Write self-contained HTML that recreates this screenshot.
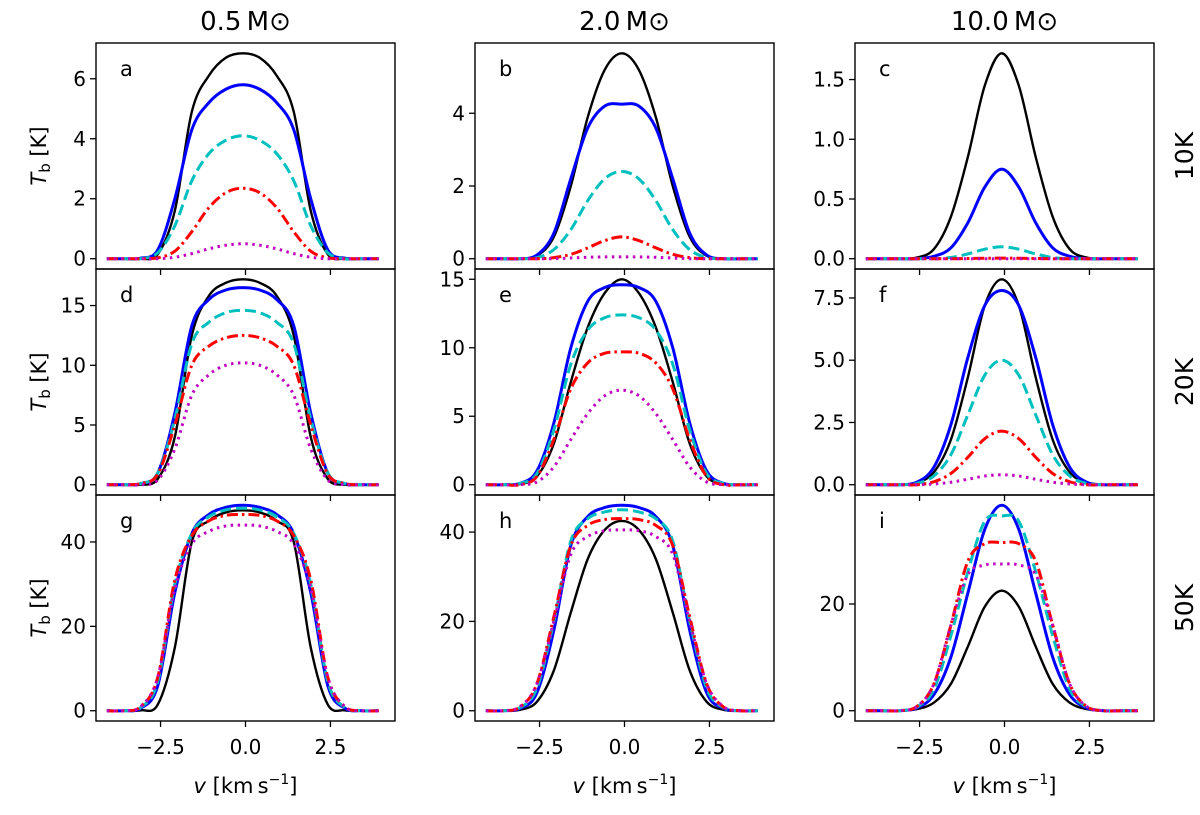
<!DOCTYPE html>
<html><head><meta charset="utf-8">
<style>
html,body{margin:0;padding:0;background:#fff;}
svg text{font-family:"DejaVu Sans","Liberation Sans",sans-serif;fill:#000;}
</style></head>
<body>
<svg id="fig" width="1200" height="810" viewBox="0 0 1200 810" xmlns="http://www.w3.org/2000/svg"></svg>
<script>
// ---- data ----
const colTitles = ["0.5", "2.0", "10.0"];
const rowLabels = ["10K", "20K", "50K"];
const panelLetters = ["a","b","c","d","e","f","g","h","i"];
const sampleV = [0, 0.5, 1.0, 1.5, 2.0, 2.5, 3.0, 3.5, 4.0];
const xTickValues = [-2.5, 0.0, 2.5];
const xTickLabels = ["\u22122.5", "0.0", "2.5"];
const yTicksA = [0, 2, 4, 6];
const yTicksB = [0, 2, 4];
const yTicksC = [0.0, 0.5, 1.0, 1.5];
const yTicksD = [0, 5, 10, 15];
const yTicksE = [0, 5, 10, 15];
const yTicksF = [0.0, 2.5, 5.0, 7.5];
const yTicksG = [0, 20, 40];
const yTicksH = [0, 20, 40];
const yTicksI = [0, 20];
const yTickDecimals = [0,0,1,0,0,1,0,0,0];

// series per panel: black, blue, cyan, red, magenta
const seriesA = [[6.85,6.7,6.1,4.9,1.6,0.15,0,0,0],[5.8,5.65,5.2,4.3,2.0,0.3,0.02,0,0],[4.1,3.95,3.5,2.6,1.1,0.2,0,0,0],[2.35,2.2,1.7,0.9,0.25,0.03,0,0,0],[0.5,0.45,0.33,0.17,0.05,0,0,0,0]];
const seriesB = [[5.65,5.2,3.9,2.0,0.6,0.08,0,0,0],[4.25,4.2,3.6,2.2,0.7,0.1,0,0,0],[2.4,2.2,1.6,0.8,0.25,0.03,0,0,0],[0.6,0.5,0.3,0.12,0.03,0,0,0,0],[0.05,0.05,0.04,0.02,0,0,0,0,0]];
const seriesC = [[1.72,1.45,0.85,0.35,0.08,0.01,0,0,0],[0.75,0.6,0.3,0.09,0.02,0,0,0,0],[0.1,0.08,0.04,0.01,0,0,0,0,0],[0.005,0.004,0.002,0,0,0,0,0,0],[0,0,0,0,0,0,0,0,0]];
const seriesD = [[17.2,16.9,15.8,12.5,4,0.5,0,0,0],[16.5,16.3,15.5,13.3,6,1,0.1,0,0],[14.6,14.4,13.6,11.8,5.5,1,0.1,0,0],[12.5,12.3,11.6,10,5,0.9,0.1,0,0],[10.2,10,9.2,7.5,3,0.4,0,0,0]];
const seriesE = [[15,14,11.5,7.5,3,0.6,0.05,0,0],[14.6,14.4,13.4,10,4.5,1,0.1,0,0],[12.4,12.2,11.3,8.8,4,0.8,0.1,0,0],[9.7,9.6,8.9,7,3.3,0.6,0,0,0],[6.9,6.5,5.2,3.3,1.3,0.2,0,0,0]];
const seriesF = [[8.25,7.2,4.3,1.8,0.5,0.08,0,0,0],[7.8,7.2,5.1,2.4,0.7,0.1,0,0,0],[5.0,4.4,2.8,1.2,0.35,0.05,0,0,0],[2.15,1.85,1.1,0.45,0.12,0,0,0,0],[0.4,0.35,0.22,0.1,0.03,0,0,0,0]];
const seriesG = [[47.5,47,45,40,15,1.5,0.1,0,0],[48.7,48.2,46.5,42,28,6,0.6,0,0],[48,47.6,46,42,30,7,0.8,0,0],[46.5,46.3,45,41.5,31,8,1,0,0],[44,43.8,42.5,39.5,29,8,1,0,0]];
const seriesH = [[42.5,40.5,34,22,9,2,0.2,0,0],[46,45.5,43.5,37,18,4,0.5,0,0],[45,44.5,43,38,20,5,0.7,0,0],[43,42.8,41.5,37,21,6,0.8,0,0],[40.5,40.3,39,35,20,6,0.9,0,0]];
const seriesI = [[22.5,19.5,12,5,1.5,0.3,0,0,0],[38.5,34,22,10,3,0.5,0,0,0],[36.5,35.5,26,14,4,0.7,0,0,0],[31.5,31.3,28,16,5,0.8,0,0,0],[27.5,27.3,25.5,16,5,0.8,0,0,0]];

const allSeries = [seriesA,seriesB,seriesC,seriesD,seriesE,seriesF,seriesG,seriesH,seriesI];
const allYTicks = [yTicksA,yTicksB,yTicksC,yTicksD,yTicksE,yTicksF,yTicksG,yTicksH,yTicksI];
const seriesNames = ["black-solid","blue-solid","cyan-dashed","red-dashdot","magenta-dotted"];

// ---- styles / layout ----
const styles = [
 {c:"#000000", w:2.4, d:null},
 {c:"#0000ff", w:3, d:null},
 {c:"#00bfbf", w:3, d:"11,5"},
 {c:"#ff0000", w:3, d:"11,4,2.5,4"},
 {c:"#bf00bf", w:3, d:"2.5,4.5"}
];
const colLeft = [96, 475, 855], pw = 299;
const rowTop = [43, 269, 495], ph = 226;
const centerShift = -0.08;
const NS = "http://www.w3.org/2000/svg";
const svg = document.getElementById("fig");
function mk(tag, attrs, parent){ const e=document.createElementNS(NS,tag); for(const k in attrs) e.setAttribute(k,attrs[k]); (parent||svg).appendChild(e); return e; }

function catmull(pts){
  let d = "M"+pts[0][0].toFixed(2)+","+pts[0][1].toFixed(2);
  for(let i=0;i<pts.length-1;i++){
    const p0=pts[Math.max(0,i-1)], p1=pts[i], p2=pts[i+1], p3=pts[Math.min(pts.length-1,i+2)];
    const c1x=p1[0]+(p2[0]-p0[0])/6, c1y=p1[1]+(p2[1]-p0[1])/6;
    const c2x=p2[0]-(p3[0]-p1[0])/6, c2y=p2[1]-(p3[1]-p1[1])/6;
    d+=" C"+c1x.toFixed(2)+","+c1y.toFixed(2)+" "+c2x.toFixed(2)+","+c2y.toFixed(2)+" "+p2[0].toFixed(2)+","+p2[1].toFixed(2);
  }
  return d;
}

for(let r=0;r<3;r++){
  for(let c=0;c<3;c++){
    const idx=r*3+c;
    const L=colLeft[c], T=rowTop[r];
    const ser=allSeries[idx];
    let P=0; ser.forEach(s=>s.forEach(v=>{if(v>P)P=v;}));
    const ymin=-0.05*P, ymax=1.05*P;
    const xs=v=>L+(v+4.4)/8.8*pw;
    const ys=y=>T+ph-(y-ymin)/(ymax-ymin)*ph;
    const g=mk("g",{});
    
    
    const clipId="clip"+idx;
    const cp=mk("clipPath",{id:clipId},g); mk("rect",{x:L,y:T,width:pw,height:ph},cp);
    const lg=mk("g",{"clip-path":"url(#"+clipId+")"},g);
    ser.forEach((vals,si)=>{
      const pts=[];
      for(let k=sampleV.length-1;k>0;k--) pts.push([xs(-sampleV[k]+centerShift), ys(vals[k])]);
      for(let k=0;k<sampleV.length;k++) pts.push([xs(sampleV[k]+centerShift), ys(vals[k])]);
      const st=styles[si];
      const p=mk("path",{d:catmull(pts),fill:"none",stroke:st.c,"stroke-width":st.w,"stroke-linejoin":"round"},lg);
      if(st.d) p.setAttribute("stroke-dasharray",st.d);
      
      
    });
    const fr=mk("rect",{x:L,y:T,width:pw,height:ph,fill:"none",stroke:"#000","stroke-width":1.4},g);
    
    
    const lt=mk("text",{x:L+24,y:T+33,"font-size":"21"},g); lt.textContent=panelLetters[idx];
    
    
    allYTicks[idx].forEach(tv=>{
      const y=ys(tv);
      mk("line",{x1:L-6,x2:L,y1:y,y2:y,stroke:"#000","stroke-width":1.3},g);
      const t=mk("text",{x:L-10,y:y+7,"font-size":"20","text-anchor":"end"},g);
      t.textContent=tv.toFixed(yTickDecimals[idx]);
      
      
    });
    xTickValues.forEach((tv,ti)=>{
      const x=xs(tv);
      mk("line",{x1:x,x2:x,y1:T+ph,y2:T+ph+6,stroke:"#000","stroke-width":1.3},g);
      if(r===2){
        const t=mk("text",{x:x,y:T+ph+33,"font-size":"20","text-anchor":"middle"},g);
        t.textContent=xTickLabels[ti];
        
        
      }
    });
  }
}
colTitles.forEach((ct,c)=>{
  const t=mk("text",{x:colLeft[c]+pw/2,y:30,"font-size":"26","text-anchor":"middle"});
  t.textContent=ct+"\u2009M\u2299";
  
  
});
rowLabels.forEach((rl,r)=>{
  const cy=rowTop[r]+ph/2, cx=1193;
  const t=mk("text",{x:cx,y:cy,"font-size":"25","text-anchor":"middle",transform:"rotate(-90 "+cx+" "+cy+")"});
  t.textContent=rl;
  
  
});
for(let r=0;r<3;r++){
  const cy=rowTop[r]+ph/2, cx=46;
  const t=mk("text",{x:cx,y:cy,"font-size":"21","text-anchor":"middle",transform:"rotate(-90 "+cx+" "+cy+")"});
  t.innerHTML='<tspan font-style="italic">T</tspan><tspan font-size="15" dy="4">b</tspan><tspan dy="-4"> [K]</tspan>';
  
  
}
for(let c=0;c<3;c++){
  const t=mk("text",{x:colLeft[c]+pw/2,y:793,"font-size":"21","text-anchor":"middle"});
  t.innerHTML='<tspan font-style="italic">v</tspan> [km\u2009s<tspan font-size="14" dy="-9">\u22121</tspan><tspan dy="9">]</tspan>';
  
  
}
</script>
</body></html>
